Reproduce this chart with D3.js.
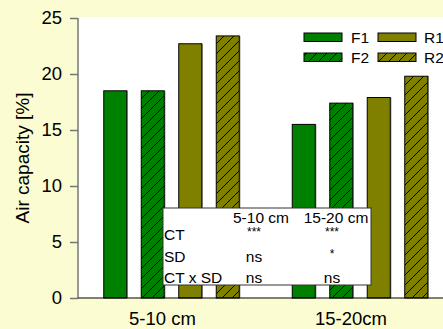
<!DOCTYPE html>
<html><head><meta charset="utf-8">
<script src="https://cdn.jsdelivr.net/npm/d3@7"></script>
<style>
html,body{margin:0;padding:0;background:#FCFCD2;}
svg{display:block;font-family:"Liberation Sans",Arial,sans-serif;}
</style></head>
<body>
<svg id="chart" width="443" height="329"></svg>
<script>
const groups = ["5-10 cm", "15-20cm"];
const series = ["F1", "F2", "R1", "R2"];
const F1 = [18.5, 15.5];
const F2 = [18.5, 17.4];
const R1 = [22.7, 17.9];
const R2 = [23.4, 19.8];
const yTicks = [0, 5, 10, 15, 20, 25];
const statCols = ["5-10 cm", "15-20 cm"];
const statRows = ["CT", "SD", "CT x SD"];
const statVals = [["***", "***"], ["ns", "*"], ["ns", "ns"]];

const values = {F1, F2, R1, R2};
const colors = {F1: "#008000", F2: "#008000", R1: "#808000", R2: "#808000"};
const hatched = {F1: false, F2: true, R1: false, R2: true};

const svg = d3.select("#chart");
const defs = svg.append("defs");
["F2", "R2"].forEach(s => {
  const p = defs.append("pattern").attr("id", "hatch" + s)
    .attr("patternUnits", "userSpaceOnUse").attr("width", 10).attr("height", 10);
  p.append("rect").attr("width", 10).attr("height", 10).attr("fill", colors[s]);
  p.append("path").attr("d", "M0,10 L10,0 M-2,2 L2,-2 M8,12 L12,8")
    .attr("stroke", "#000").attr("stroke-width", 1);
});
const fillOf = s => hatched[s] ? `url(#hatch${s})` : colors[s];

const plotLeft = 78, plotTop = 17, plotBottom = 298;
svg.append("rect").attr("x", plotLeft).attr("y", plotTop).attr("width", 443 - plotLeft).attr("height", plotBottom - plotTop).attr("fill", "#fff");

const y = d3.scaleLinear().domain([0, 25]).range([plotBottom, 18]);
const x0 = d3.scaleBand().domain(groups).range([77.25, 454.25]).padding(0);
const x1 = d3.scaleBand().domain(series).range([26.5, 162]).paddingInner(14.5 / 37.5).paddingOuter(0);

// bars
groups.forEach((g, gi) => {
  series.forEach(s => {
    const v = values[s][gi];
    const bx = x0(g) + x1(s);
    svg.append("rect").attr("x", bx + x1.bandwidth()).attr("y", y(v)).attr("width", 1.2)
      .attr("height", y(0) - y(v)).attr("fill", "#999");
    svg.append("rect").attr("x", bx).attr("y", y(v)).attr("width", x1.bandwidth())
      .attr("height", y(0) - y(v)).attr("fill", fillOf(s))
      .attr("stroke", "#000").attr("stroke-width", 1);
  });
});

// y axis
const yAxis = svg.append("g").attr("transform", `translate(${plotLeft},0)`)
  .call(d3.axisLeft(y).tickValues(yTicks).tickSize(8).tickPadding(8));
yAxis.select(".domain").attr("stroke", "#777").attr("stroke-width", 1.5).attr("d", `M0,${y(25)}V${y(0)}`);
yAxis.selectAll(".tick line").attr("stroke", "#777").attr("stroke-width", 1.5);
yAxis.selectAll(".tick text").attr("font-size", 18.5).attr("fill", "#000").attr("font-family", "Liberation Sans, Arial, sans-serif");

// x axis
svg.append("line").attr("x1", plotLeft).attr("x2", 443).attr("y1", plotBottom).attr("y2", plotBottom)
  .attr("stroke", "#000").attr("stroke-width", 1.2);
svg.selectAll(".xlab").data(groups).enter().append("text")
  .attr("x", g => x0(g) + x0.bandwidth() / 2 - 9).attr("y", 325)
  .attr("text-anchor", "middle").attr("font-size", 18.5).text(g => g);

// y title
svg.append("text").attr("transform", "translate(29,158) rotate(-90)")
  .attr("text-anchor", "middle").attr("font-size", 19).text("Air capacity [%]");

// legend
const legPos = [[304, 33, 351], [304, 53, 351], [378, 33, 424], [378, 53, 424]];
series.forEach((s, i) => {
  const [lx, ly, tx] = legPos[i];
  svg.append("rect").attr("x", lx).attr("y", ly).attr("width", 38).attr("height", 8.5)
    .attr("fill", fillOf(s)).attr("stroke", "#000").attr("stroke-width", 1);
  svg.append("text").attr("x", tx).attr("y", ly + 9.5).attr("font-size", 15.5).text(s);
});

// stats box
svg.append("rect").attr("x", 163).attr("y", 208).attr("width", 208).attr("height", 77)
  .attr("fill", "#fff").attr("stroke", "#333").attr("stroke-width", 1);
const colX = [261, 336];
const valX = [254, 332];
statCols.forEach((c, i) => svg.append("text").attr("x", colX[i]).attr("y", 222.5)
  .attr("text-anchor", "middle").attr("font-size", 15.5).text(c));
const rowY = [239.5, 261.5, 282.5];
statRows.forEach((r, i) => {
  svg.append("text").attr("x", 164).attr("y", rowY[i]).attr("font-size", 15.5).text(r);
  statVals[i].forEach((v, j) => {
    const isStar = v.indexOf("*") >= 0;
    svg.append("text").attr("x", valX[j]).attr("y", isStar ? rowY[i] - 4 : rowY[i])
      .attr("text-anchor", "middle").attr("font-size", isStar ? 12 : 15.5).text(v);
  });
});
</script>
</body></html>
